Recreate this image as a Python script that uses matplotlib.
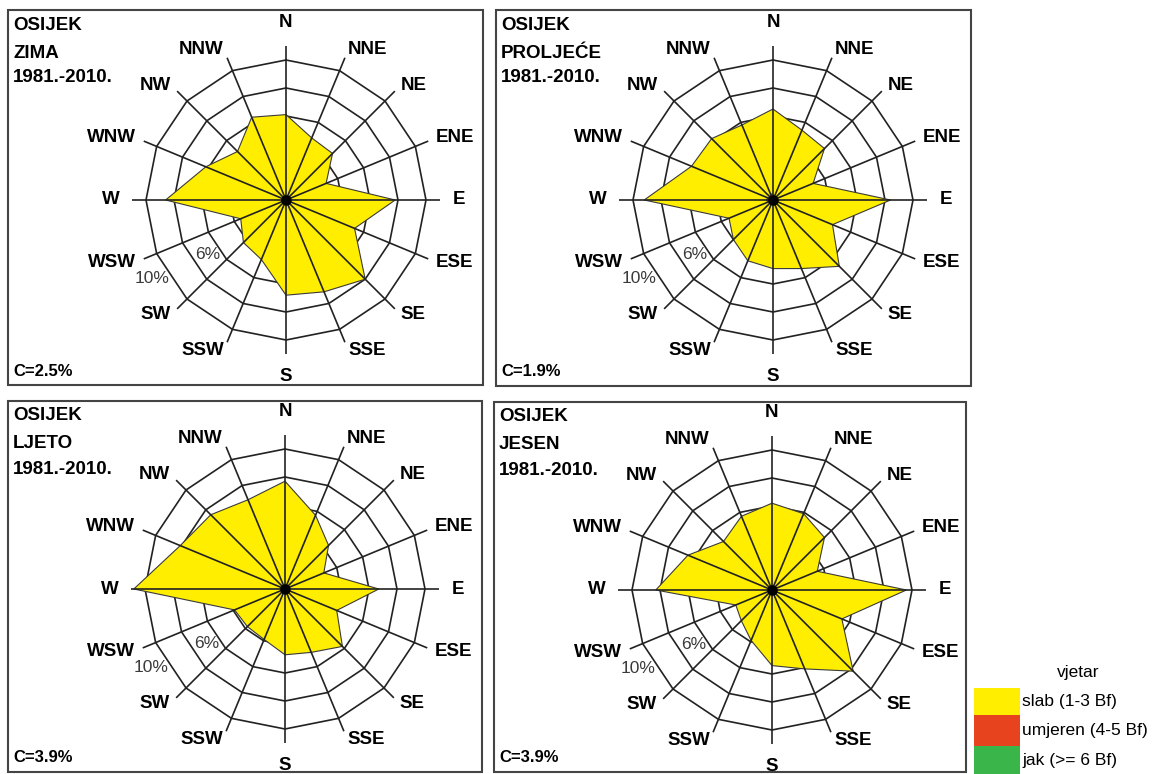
import numpy as np
import matplotlib
matplotlib.use("Agg")
import matplotlib.pyplot as plt
from matplotlib.patches import Rectangle

plt.rcParams['font.family'] = ['Liberation Sans', 'DejaVu Sans']

# ---- data -------------------------------------------------------------
directions = ['N', 'NNE', 'NE', 'ENE', 'E', 'ESE', 'SE', 'SSE',
              'S', 'SSW', 'SW', 'WSW', 'W', 'WNW', 'NW', 'NNW']
station = 'OSIJEK'
period = '1981.-2010.'
seasons = ['ZIMA', 'PROLJEĆE', 'LJETO', 'JESEN']
calms = [2.5, 1.9, 3.9, 3.9]

# frequency (%) of weak wind (1-3 Bf) per direction
zima_slab = [6.1, 4.8, 4.7, 3.1, 7.8, 5.3, 8.0, 7.1, 6.8, 4.6, 4.3, 3.5, 8.6, 6.2, 4.9, 6.4]
proljece_slab = [6.5, 5.4, 5.2, 3.1, 8.4, 4.6, 6.7, 5.3, 4.9, 4.7, 4.0, 3.4, 9.2, 6.3, 6.2, 5.8]
ljeto_slab = [7.7, 5.7, 4.4, 3.0, 6.7, 4.0, 5.8, 4.9, 4.7, 3.9, 3.8, 3.9, 10.8, 8.1, 7.5, 6.9]
jesen_slab = [6.2, 5.9, 5.3, 3.5, 9.6, 5.4, 8.2, 6.1, 5.4, 3.9, 3.1, 2.8, 8.3, 6.5, 4.9, 5.7]

# frequency (%) of moderate wind (4-5 Bf)
zima_umjeren = [0.2, 0.1, 0.1, 0.1, 0.2, 0.1, 0.2, 0.1, 0.1, 0.1, 0.1, 0.1, 0.3, 0.2, 0.2, 0.2]
proljece_umjeren = [0.4, 0.2, 0.1, 0.1, 0.2, 0.1, 0.1, 0.1, 0.1, 0.1, 0.2, 0.4, 0.5, 0.4, 0.3, 0.5]
ljeto_umjeren = [0.2, 0.1, 0.1, 0.1, 0.1, 0.1, 0.1, 0.1, 0.1, 0.1, 0.1, 0.1, 0.3, 0.3, 0.3, 0.3]
jesen_umjeren = [0.1, 0.1, 0.1, 0.1, 0.2, 0.1, 0.2, 0.1, 0.1, 0.1, 0.1, 0.1, 0.2, 0.2, 0.1, 0.1]

# frequency (%) of strong wind (>= 6 Bf)
zima_jak = [0.0] * 16
proljece_jak = [0.0] * 16
ljeto_jak = [0.0] * 16
jesen_jak = [0.0] * 16

slab_series = [zima_slab, proljece_slab, ljeto_slab, jesen_slab]
umjeren_series = [zima_umjeren, proljece_umjeren, ljeto_umjeren, jesen_umjeren]
jak_series = [zima_jak, proljece_jak, ljeto_jak, jesen_jak]

ring_values = [2, 4, 6, 8, 10]
legend_title = 'vjetar'
legend_labels = ['slab (1-3 Bf)', 'umjeren (4-5 Bf)', 'jak (>= 6 Bf)']

# ---- styling ------------------------------------------------------------
YELLOW = '#FFEE00'
RED = '#E8431F'
GREEN = '#3AB54A'
GRID = '#222222'
FRAME = '#444444'

W, H = 1155, 774
fig = plt.figure(figsize=(W / 100, H / 100), dpi=100)
fig.patch.set_facecolor('white')

R_MAX = 11.0       # spokes reach 11 %
R_PX = 154         # pixel radius of R_MAX

# (frame left, top, right, bottom, centre x, centre y) in pixels
layout = [
    (8, 10, 483, 385, 286, 200),
    (496, 10, 971, 386, 773, 200),
    (8, 401, 482, 772, 285, 589),
    (494, 402, 966, 772, 772, 590),
]


def fx(x):
    return x / W


def fy(y):
    return 1 - y / H


theta = np.deg2rad(np.arange(len(directions)) * 22.5)
theta_closed = np.append(theta, theta[0])


def closed(vals):
    v = np.asarray(vals, dtype=float)
    return np.append(v, v[0])


for k, (x0, y0, x1, y1, cx, cy) in enumerate(layout):
    # panel frame
    fig.add_artist(Rectangle((fx(x0), fy(y1)), fx(x1) - fx(x0), fy(y0) - fy(y1),
                             transform=fig.transFigure, fill=False,
                             edgecolor=FRAME, linewidth=1.5))
    # header text
    fig.text(fx(x0 + 5), fy(y0 + 15), station, fontsize=13.5, fontweight='bold',
             ha='left', va='center')
    fig.text(fx(x0 + 5), fy(y0 + 43), seasons[k], fontsize=13.5, fontweight='bold',
             ha='left', va='center')
    fig.text(fx(x0 + 5), fy(y0 + 68), period, fontsize=13.5, fontweight='bold',
             ha='left', va='center')
    fig.text(fx(x0 + 5), fy(y1 - 14), f'C={calms[k]}%', fontsize=12,
             fontweight='bold', ha='left', va='center')

    ax = fig.add_axes([fx(cx - R_PX), fy(cy + R_PX), 2 * R_PX / W, 2 * R_PX / H],
                      projection='polar')
    ax.set_theta_zero_location('N')
    ax.set_theta_direction(-1)
    ax.set_ylim(0, R_MAX)
    ax.axis('off')

    # polygonal rings
    for rv in ring_values:
        ax.plot(theta_closed, np.full(theta_closed.shape, rv), color=GRID,
                lw=1.2, zorder=1, solid_joinstyle='miter')

    # wind classes
    ax.fill(theta_closed, closed(slab_series[k]), facecolor=YELLOW,
            edgecolor='#3a3a3a', lw=0.8, zorder=2)
    ax.fill(theta_closed, closed(umjeren_series[k]), facecolor=RED,
            edgecolor='#5a1a10', lw=0.5, zorder=3)
    if max(jak_series[k]) > 0:
        ax.fill(theta_closed, closed(jak_series[k]), facecolor=GREEN,
                edgecolor='#1a5a20', lw=0.5, zorder=3)

    # spokes
    for t in theta:
        ax.plot([t, t], [0, R_MAX], color=GRID, lw=1.2, zorder=4)
    ax.plot([0], [0], marker='o', ms=6.5, color='black', zorder=5, clip_on=False)

    # direction labels
    for t, name in zip(theta, directions):
        s = np.sin(t)
        if abs(s) < 1e-6:
            r = 12.7 if np.cos(t) > 0 else 12.6
            ax.text(t, r, name, ha='center', va='center', fontsize=13.5,
                    fontweight='bold', clip_on=False)
        else:
            r = 11.6 if name not in ('E', 'W') else 11.9
            ax.text(t, r, name, ha='left' if s > 0 else 'right', va='center',
                    fontsize=13.5, fontweight='bold', clip_on=False)

    # ring scale labels
    ax.text(np.deg2rad(235.2), 6.85, '6%', ha='center', va='center',
            fontsize=12.5, color='#3a3a3a', clip_on=False)
    ax.text(np.deg2rad(239.5), 11.1, '10%', ha='center', va='center',
            fontsize=12.5, color='#3a3a3a', clip_on=False)

# ---- legend -------------------------------------------------------------
fig.text(fx(1078), fy(673), legend_title, fontsize=12.5, ha='center', va='center')
legend_colors = [YELLOW, RED, GREEN]
legend_rows = [(688, 715), (715, 746), (746, 774)]
for (ya, yb), col, lab in zip(legend_rows, legend_colors, legend_labels):
    fig.add_artist(Rectangle((fx(974), fy(yb)), fx(1020) - fx(974), fy(ya) - fy(yb),
                             transform=fig.transFigure, facecolor=col,
                             edgecolor='none'))
    fig.text(fx(1022), fy((ya + yb) / 2), lab, fontsize=12.5, ha='left',
             va='center')

fig.savefig('out.png', dpi=100, facecolor='white')
